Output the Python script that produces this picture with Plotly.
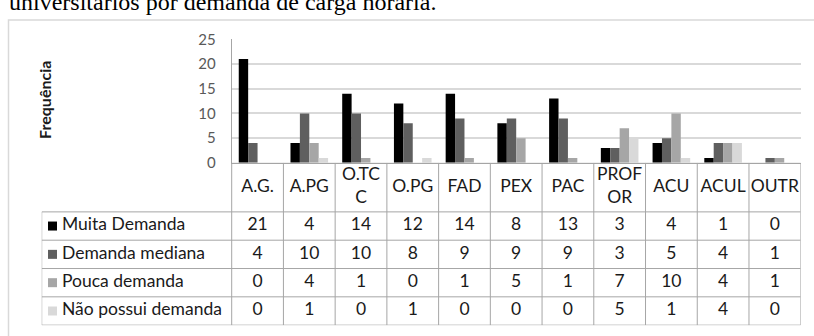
import plotly.graph_objects as go

# ---- data -----------------------------------------------------------------
categories = ["A.G.", "A.PG", "O.TCC", "O.PG", "FAD", "PEX", "PAC", "PROFOR", "ACU", "ACUL", "OUTR"]
header_labels = ["A.G.", "A.PG", "O.TC<br>C", "O.PG", "FAD", "PEX", "PAC", "PROF<br>OR", "ACU", "ACUL", "OUTR"]

series_names = ["Muita Demanda", "Demanda mediana", "Pouca demanda", "Não possui demanda"]
muita_demanda = [21, 4, 14, 12, 14, 8, 13, 3, 4, 1, 0]
demanda_mediana = [4, 10, 10, 8, 9, 9, 9, 3, 5, 4, 1]
pouca_demanda = [0, 4, 1, 0, 1, 5, 1, 7, 10, 4, 1]
nao_possui = [0, 1, 0, 1, 0, 0, 0, 5, 1, 4, 0]
series_values = [muita_demanda, demanda_mediana, pouca_demanda, nao_possui]
series_colors = ["#000000", "#5f5f5f", "#a6a6a6", "#d9d9d9"]

y_ticks = [0, 5, 10, 15, 20, 25]

title_text = "universitários por demanda de carga horária."
y_title = "Frequência"

# ---- layout constants (pixels) --------------------------------------------
W, H = 814, 336
FONT = "Lato, Calibri, sans-serif"
TEXT_COLOR = "#1a1a1a"
GRID = "#a6a6a6"
TABLE_FONT_SIZE = 17.5

plot_left, plot_right = 231.7, 800.7
plot_top, axis_y = 31.0, 161.5
table_left, table_bottom = 41.7, 333.0
header_bottom = 213.3

n = len(categories)
col_w = (plot_right - plot_left) / n          # pixel width of one category
row_h = (table_bottom - header_bottom) / 4    # pixel height of one data row
label_cols = (plot_left - table_left) / col_w  # label column width in category units
hdr = (header_bottom - axis_y) / row_h         # header height in row units


def px(x):
    return x / W


def py(y):
    return 1 - y / H


fig = go.Figure()

# ---- clustered bars -------------------------------------------------------
for name, vals, col in zip(series_names, series_values, series_colors):
    fig.add_trace(go.Bar(
        x=categories, y=vals, name=name,
        marker=dict(color=col, line=dict(width=0)),
        showlegend=False, hoverinfo="x+y+name",
        xaxis="x", yaxis="y",
    ))

# ---- data table underneath ------------------------------------------------
xs = list(range(n))
left_edge = -0.5 - label_cols

# header row
fig.add_trace(go.Scatter(
    x=xs, y=[hdr / 2] * n, text=header_labels, mode="text",
    textfont=dict(family=FONT, size=TABLE_FONT_SIZE, color=TEXT_COLOR),
    textposition="middle center", showlegend=False, hoverinfo="skip",
    xaxis="x2", yaxis="y2", cliponaxis=False,
))

for r, (name, vals, col) in enumerate(zip(series_names, series_values, series_colors)):
    yc = -r - 0.5
    # value cells
    fig.add_trace(go.Scatter(
        x=xs, y=[yc] * n, text=[str(v) for v in vals], mode="text",
        textfont=dict(family=FONT, size=TABLE_FONT_SIZE, color=TEXT_COLOR),
        textposition="middle center", showlegend=False, hoverinfo="skip",
        xaxis="x2", yaxis="y2", cliponaxis=False,
    ))
    # legend key square
    fig.add_trace(go.Scatter(
        x=[left_edge + (52.5 - table_left) / col_w], y=[yc], mode="markers",
        marker=dict(symbol="square", size=9, color=col, line=dict(width=0)),
        showlegend=False, hoverinfo="skip",
        xaxis="x2", yaxis="y2", cliponaxis=False,
    ))
    # series label
    fig.add_trace(go.Scatter(
        x=[left_edge + (62.0 - table_left) / col_w], y=[yc], text=[name], mode="text",
        textfont=dict(family=FONT, size=TABLE_FONT_SIZE, color=TEXT_COLOR),
        textposition="middle right", showlegend=False, hoverinfo="skip",
        xaxis="x2", yaxis="y2", cliponaxis=False,
    ))

shapes = []
line = dict(color=GRID, width=1)
# horizontal rules
shapes.append(dict(type="line", xref="x2", yref="y2", x0=-0.5, x1=n - 0.5, y0=hdr, y1=hdr, line=line))
for k in range(5):
    shapes.append(dict(type="line", xref="x2", yref="y2", x0=left_edge, x1=n - 0.5,
                       y0=-k, y1=-k, line=line))
# vertical rules
for i in range(n + 1):
    shapes.append(dict(type="line", xref="x2", yref="y2", x0=i - 0.5, x1=i - 0.5,
                       y0=-4, y1=hdr, line=line))
shapes.append(dict(type="line", xref="x2", yref="y2", x0=left_edge, x1=left_edge,
                   y0=-4, y1=0, line=line))
# chart frame
shapes.append(dict(type="rect", xref="paper", yref="paper", x0=px(8.5), x1=1.05,
                   y0=-0.05, y1=py(10.5), line=dict(color="#d9d9d9", width=1.5),
                   layer="below"))

annotations = [
    dict(text=y_title, xref="paper", yref="paper", x=px(45), y=py(95),
         xanchor="center", yanchor="middle", textangle=-90, showarrow=False,
         font=dict(family=FONT, size=16, color=TEXT_COLOR, weight="bold")),
    dict(text=title_text, xref="paper", yref="paper", x=px(7), y=py(7),
         xanchor="left", yanchor="bottom", showarrow=False,
         font=dict(family="Liberation Serif, Times New Roman, serif", size=24, color="#000000")),
]

fig.update_layout(
    width=W, height=H,
    margin=dict(l=0, r=0, t=0, b=0),
    paper_bgcolor="white", plot_bgcolor="white",
    barmode="group", bargap=1.5 / 5.5, bargroupgap=0,
    xaxis=dict(domain=[px(plot_left), px(plot_right)], type="category",
               categoryorder="array", categoryarray=categories,
               showticklabels=False, ticks="", showgrid=False, zeroline=False,
               showline=True, linecolor=GRID, linewidth=1, anchor="y"),
    yaxis=dict(domain=[py(axis_y), py(plot_top)], range=[0, 25],
               tickvals=y_ticks, ticks="", showgrid=True, gridcolor="#d9d9d9",
               gridwidth=1.5, zeroline=False, showline=True, linecolor=GRID,
               linewidth=1, ticklabelstandoff=12,
               tickfont=dict(family=FONT, size=15, color="#595959"), anchor="x"),
    xaxis2=dict(domain=[px(table_left), px(plot_right)], range=[left_edge, n - 0.5],
                visible=False, anchor="y2"),
    yaxis2=dict(domain=[py(table_bottom), py(axis_y)], range=[-4, hdr],
                visible=False, anchor="x2"),
    shapes=shapes,
    annotations=annotations,
)

fig.write_html("out.html")
